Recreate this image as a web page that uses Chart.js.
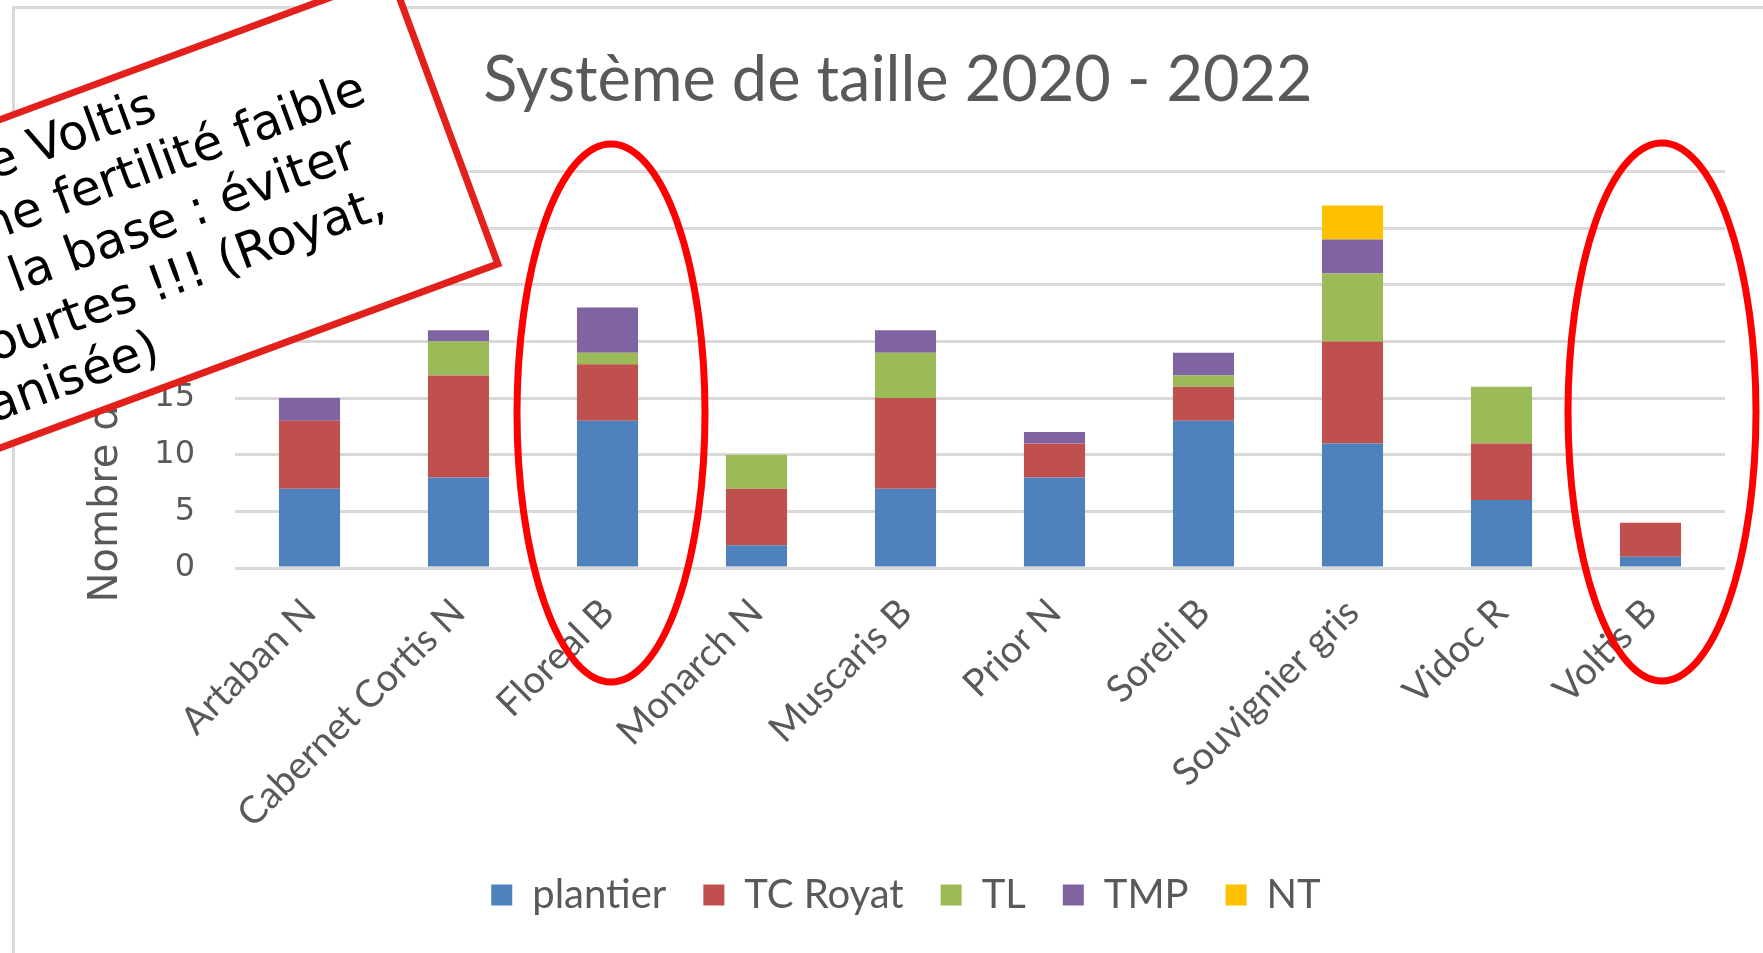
<!DOCTYPE html>
<html>
<head>
<meta charset="utf-8">
<script src="https://cdn.jsdelivr.net/npm/chart.js@4.4.1/dist/chart.umd.min.js"></script>
<style>
  html, body { margin: 0; padding: 0; background: #fff; }
</style>
</head>
<body>
<canvas id="tailleChart" width="1763" height="953"></canvas>
<script>
// données (nombre par cépage et par système de taille)
const cepages = ["Artaban N", "Cabernet Cortis N", "Floreal B", "Monarch N", "Muscaris B",
                 "Prior N", "Soreli B", "Souvignier gris", "Vidoc R", "Voltis B"];
const plantier = [7, 8, 13, 2, 7, 8, 13, 11, 6, 1];
const tcRoyat  = [6, 9, 5, 5, 8, 3, 3, 9, 5, 3];
const tl       = [0, 3, 1, 3, 4, 0, 1, 6, 5, 0];
const tmp      = [2, 1, 4, 0, 2, 1, 2, 3, 0, 0];
const nt       = [0, 0, 0, 0, 0, 0, 0, 3, 0, 0];
const yMax = 35;
const yStep = 5;

const titre = "Système de taille 2020 - 2022\u00a0";
const titreAxeY = "Nombre d'exploitations";
const note = ["Cas de Voltis", "une fertilité faible", "à la base : éviter",
              "tailles courtes !!! (Royat,", "mécanisée)"];

const grey = "#595959";
const gridGrey = "#d9d9d9";

// cadre gris + fond blanc
const cadre = {
  id: "cadre",
  beforeDraw(chart) {
    const ctx = chart.ctx;
    ctx.save();
    ctx.fillStyle = "#fff";
    ctx.fillRect(0, 0, chart.width, chart.height);
    ctx.strokeStyle = gridGrey;
    ctx.lineWidth = 3;
    ctx.beginPath();
    ctx.moveTo(13.5, chart.height);
    ctx.lineTo(13.5, 7.5);
    ctx.lineTo(chart.width, 7.5);
    ctx.stroke();
    ctx.restore();
  }
};

// annotations : ellipses rouges + encadré
const annotations = {
  id: "annotations",
  afterDraw(chart) {
    const ctx = chart.ctx;
    ctx.save();
    ctx.strokeStyle = "#ff0000";
    ctx.lineWidth = 7;
    [[611, 413], [1662, 412]].forEach(([cx, cy]) => {
      ctx.beginPath();
      ctx.ellipse(cx, cy, 94, 269, 0, 0, Math.PI * 2);
      ctx.stroke();
    });

    ctx.translate(391, -25);
    ctx.rotate(-20.3 * Math.PI / 180);
    ctx.fillStyle = "#fff";
    ctx.fillRect(-1200, 0, 1200, 308);
    ctx.strokeStyle = "#e2211c";
    ctx.lineWidth = 7;
    ctx.strokeRect(-1200, 0, 1200, 308);

    ctx.fillStyle = "#000";
    ctx.font = "49px 'DejaVu Sans'";
    ctx.textAlign = "right";
    ctx.textBaseline = "alphabetic";
    const fins = [-267, -65, -96, -86, -348];
    note.forEach((ligne, i) => {
      ctx.fillText(ligne, fins[i], 54 + 57 * i);
    });
    ctx.restore();
  }
};

const mkSet = (label, data, color) => ({
  label, data, backgroundColor: color, borderWidth: 0,
  categoryPercentage: 1, barPercentage: 0.41
});

new Chart(document.getElementById("tailleChart"), {
  type: "bar",
  data: {
    labels: cepages,
    datasets: [
      mkSet("plantier", plantier, "#4f81bd"),
      mkSet("TC Royat", tcRoyat, "#c0504d"),
      mkSet("TL", tl, "#9bbb59"),
      mkSet("TMP", tmp, "#8064a2"),
      mkSet("NT", nt, "#ffc000")
    ]
  },
  options: {
    responsive: false,
    devicePixelRatio: 1,
    animation: false,
    layout: { padding: { left: 87, right: 38, top: 0, bottom: 28 } },
    plugins: {
      title: {
        display: true,
        text: titre,
        color: grey,
        font: { family: "Lato", size: 63, weight: "normal" },
        padding: { top: 43, bottom: 53 }
      },
      legend: {
        position: "bottom",
        labels: {
          color: grey,
          font: { family: "Lato", size: 40 },
          boxWidth: 21,
          boxHeight: 21,
          padding: 37
        }
      },
      tooltip: { enabled: false }
    },
    scales: {
      x: {
        stacked: true,
        grid: { display: false },
        border: { display: false },
        ticks: {
          color: grey,
          font: { family: "Lato", size: 38 },
          maxRotation: 45,
          minRotation: 45,
          padding: 14,
          autoSkip: false
        },
        afterFit: (scale) => { scale.height = 270; }
      },
      y: {
        stacked: true,
        min: 0,
        max: yMax,
        border: { display: false },
        grid: { color: gridGrey, lineWidth: 3, drawTicks: false },
        ticks: {
          stepSize: yStep,
          color: grey,
          padding: 40,
          font: { family: "DejaVu Sans", size: 32 }
        },
        title: {
          display: true,
          text: titreAxeY,
          color: grey,
          font: { family: "DejaVu Sans", size: 40 },
          padding: { top: -4, bottom: 0 }
        },
        afterFit: (scale) => { scale.width = 148; }
      }
    }
  },
  plugins: [cadre, annotations]
});
</script>
</body>
</html>
